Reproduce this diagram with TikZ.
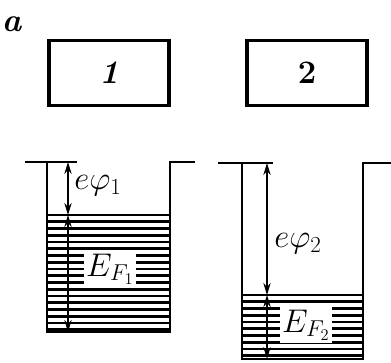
\RequirePackage{fix-cm}
\documentclass[tikz,border=0pt]{standalone}
\usepackage{tikz}
\usetikzlibrary{arrows.meta}

\begin{document}
\begin{tikzpicture}[x=0.03cm, y=-0.03cm,
    every node/.style={font=\fontsize{28}{32}\selectfont},
    metal/.style={draw, line width=3.4pt, minimum width=3.6cm, minimum height=1.95cm,
                  inner sep=0pt},
    wall/.style={line width=2.4pt},
    level/.style={line width=2.2pt},
    lbl/.style={inner sep=1pt},
    eflbl/.style={fill=white, inner sep=2pt},
    arr/.style={{Stealth[length=3.6mm,width=2.2mm]}-{Stealth[length=3.6mm,width=2.2mm]}, line width=1.3pt}]
  \useasboundingbox (0,0) rectangle (391,362);
  % label of the figure
  \node[font=\fontsize{28}{30}\selectfont] (tag) at (12,24) {\textbf{\textit{a}}};
  % the two metals
  \node[metal] (box1) at (109,73) {\textbf{\textit{1}}};
  \node[metal] (box2) at (307,73) {\textbf{2}};
  % well 1
  \coordinate (top1) at (68,162);
  \coordinate (fermi1) at (68,215);
  \coordinate (bot1) at (68,332);
  \foreach \k in {0,...,17}
    \draw[level] (47,215+6.75*\k) -- (170,215+6.75*\k);
  \draw[wall] (25,162) -- (77,162);
  \draw[wall] (47,161) -- (47,332) -- (170,332) -- (170,162) -- (195,162);
  \draw[arr] (top1) -- (fermi1);
  \draw[arr] (fermi1) -- (bot1);
  \node[lbl] (phi1) at (98,186) {$e\varphi_1$};
  \node[eflbl] (ef1) at (110,269) {$E_{F_1}$};
  % well 2
  \coordinate (top2) at (267,163);
  \coordinate (fermi2) at (267,295);
  \coordinate (bot2) at (267,359);
  \foreach \k in {0,...,9}
    \draw[level] (242,295+6.75*\k) -- (363,295+6.75*\k);
  \draw[wall] (218,163) -- (273,163);
  \draw[wall] (242,162) -- (242,359) -- (363,359) -- (363,163) -- (391,163);
  \draw[arr] (top2) -- (fermi2);
  \draw[arr] (fermi2) -- (bot2);
  \node[lbl] (phi2) at (298,244) {$e\varphi_2$};
  \node[eflbl] (ef2) at (306,325) {$E_{F_2}$};
\end{tikzpicture}
\end{document}
